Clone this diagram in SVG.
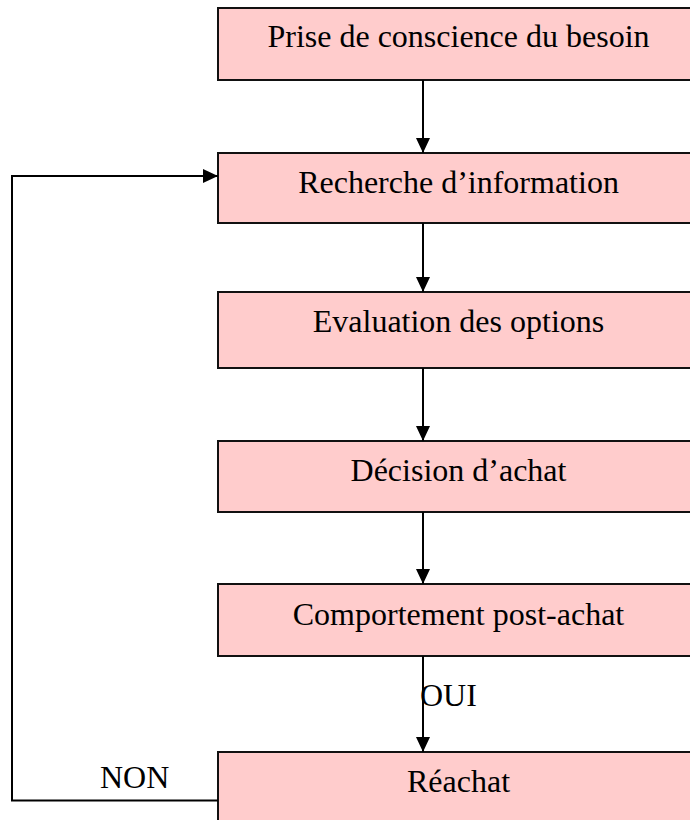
<svg xmlns="http://www.w3.org/2000/svg" width="690" height="820" viewBox="0 0 690 820">
  <defs>
    <marker id="arrow" viewBox="0 0 15 14" refX="15" refY="7" markerWidth="15" markerHeight="14" markerUnits="userSpaceOnUse" orient="auto">
      <path d="M0,0 L15,7 L0,14 Z" fill="#000"/>
    </marker>
  </defs>
  <style>
    .box { fill: #FFCCCC; stroke: #111; stroke-width: 2; }
    .label { font-family: "Liberation Serif", "Times New Roman", serif; font-size: 32px; fill: #000; }
    .mid { text-anchor: middle; }
    .conn { fill: none; stroke: #000; stroke-width: 2; }
  </style>
  <rect width="690" height="820" fill="#fff"/>

  <!-- process steps -->
  <g id="step-besoin">
    <rect class="box" x="218" y="8" width="481" height="72"/>
    <text class="label mid" x="458.5" y="47">Prise de conscience du besoin</text>
  </g>
  <g id="step-recherche">
    <rect class="box" x="218" y="153" width="481" height="70"/>
    <text class="label mid" x="458.5" y="193">Recherche d’information</text>
  </g>
  <g id="step-evaluation">
    <rect class="box" x="218" y="292" width="481" height="76"/>
    <text class="label mid" x="458.5" y="332">Evaluation des options</text>
  </g>
  <g id="step-decision">
    <rect class="box" x="218" y="441" width="481" height="71"/>
    <text class="label mid" x="458.5" y="481">Décision d’achat</text>
  </g>
  <g id="step-post-achat">
    <rect class="box" x="218" y="584" width="481" height="72"/>
    <text class="label mid" x="458.5" y="625">Comportement post-achat</text>
  </g>
  <g id="step-reachat">
    <rect class="box" x="218" y="752" width="481" height="80"/>
    <text class="label mid" x="458.5" y="792">Réachat</text>
  </g>

  <!-- connectors -->
  <g id="connectors">
    <line class="conn" x1="423" y1="80" x2="423" y2="153" marker-end="url(#arrow)"/>
    <line class="conn" x1="423" y1="223" x2="423" y2="292" marker-end="url(#arrow)"/>
    <line class="conn" x1="423" y1="368" x2="423" y2="441" marker-end="url(#arrow)"/>
    <line class="conn" x1="423" y1="512" x2="423" y2="584" marker-end="url(#arrow)"/>
    <line class="conn" x1="423" y1="656" x2="423" y2="752" marker-end="url(#arrow)"/>
    <polyline class="conn" points="218,800.5 12,800.5 12,176 218,176" marker-end="url(#arrow)"/>
    <text class="label" x="420" y="705.5">OUI</text>
    <text class="label" x="100" y="788">NON</text>
  </g>
</svg>
